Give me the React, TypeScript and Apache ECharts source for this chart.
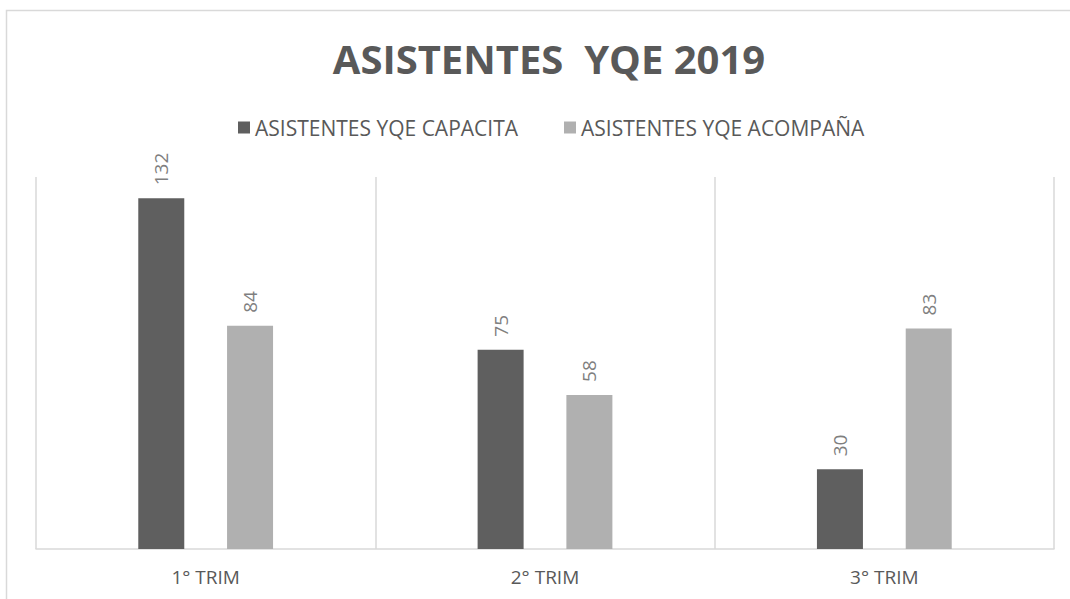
import React, { useEffect, useRef } from "react";
import * as echarts from "echarts";

const categories = ["1° TRIM", "2° TRIM", "3° TRIM"];
const capacita = [132, 75, 30];
const acompana = [84, 58, 83];
const seriesNames = ["ASISTENTES YQE CAPACITA", "ASISTENTES YQE ACOMPAÑA"];
const titleText = "ASISTENTES  YQE 2019";

export default function App() {
  const ref = useRef<HTMLDivElement>(null);
  useEffect(() => {
    if (!ref.current) return;
    const chart = echarts.init(ref.current, undefined, { renderer: "svg" });
    const labelCfg = {
      show: true,
      position: "top",
      rotate: 90,
      align: "left",
      verticalAlign: "middle",
      distance: 13,
      color: "#7f7f7f",
      fontSize: 19,
      fontFamily: "'Open Sans', sans-serif",
    };
    chart.setOption({
      animation: false,
      backgroundColor: "#ffffff",
      graphic: [
        {
          type: "rect",
          shape: { x: 6.5, y: 10.5, width: 1100, height: 620 },
          style: { fill: "none", stroke: "#d9d9d9", lineWidth: 1.5 },
          silent: true,
        },
      ],
      title: {
        text: titleText,
        left: 544,
        textAlign: "center",
        top: 33,
        textStyle: {
          color: "#595959",
          fontSize: 40,
          fontWeight: "bold",
          fontFamily: "'Open Sans', sans-serif",
        },
      },
      legend: {
        left: 233,
        top: 112,
        itemWidth: 12,
        itemHeight: 12,
        itemGap: 46,
        icon: "rect",
        textStyle: {
          color: "#595959",
          fontSize: 21,
          fontFamily: "'Open Sans', sans-serif",
        },
        data: seriesNames,
      },
      grid: { left: 36, right: 16, top: 177, bottom: 50, containLabel: false },
      xAxis: {
        type: "category",
        data: categories,
        boundaryGap: true,
        axisLine: { show: true, lineStyle: { color: "#d9d9d9", width: 1.5 } },
        axisTick: { show: false },
        splitLine: { show: true, lineStyle: { color: "#d9d9d9", width: 1.5 } },
        axisLabel: {
          color: "#595959",
          fontSize: 19,
          margin: 18,
          fontFamily: "'Open Sans', sans-serif",
        },
      },
      yAxis: {
        type: "value",
        min: 0,
        max: 140,
        show: false,
        splitLine: { show: false },
      },
      series: [
        {
          name: seriesNames[0],
          type: "bar",
          data: capacita,
          barWidth: 46,
          barGap: "93%",
          itemStyle: { color: "#5f5f5f" },
          label: labelCfg,
        },
        {
          name: seriesNames[1],
          type: "bar",
          data: acompana,
          barWidth: 46,
          barGap: "93%",
          itemStyle: { color: "#b0b0b0" },
          label: labelCfg,
        },
      ],
    });
    return () => chart.dispose();
  }, []);
  return (
    <div
      ref={ref}
      style={{ position: "fixed", left: 0, top: 0, width: 1070, height: 599 }}
    />
  );
}
